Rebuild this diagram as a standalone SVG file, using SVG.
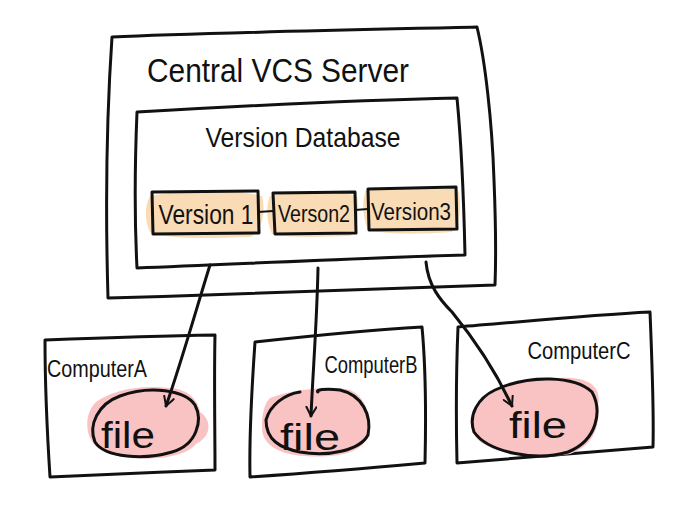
<svg xmlns="http://www.w3.org/2000/svg" width="700" height="517" viewBox="0 0 700 517">
<defs>
<style>
.ln{fill:none;stroke:#111;stroke-width:3;stroke-linecap:round;stroke-linejoin:round}
.thin{fill:none;stroke:#111;stroke-width:2;stroke-linecap:round;stroke-linejoin:round}
.t{font-family:"Liberation Sans","DejaVu Sans",sans-serif;fill:#111;text-anchor:middle}
.ver{fill:#f9dcb5;stroke:none}
.blob{fill:#f9c3c3;stroke:none}
</style>
<marker id="ah" viewBox="0 0 12 12" refX="10" refY="6" markerWidth="12" markerHeight="12" markerUnits="userSpaceOnUse" orient="auto">
<path d="M1,1 L10,6 L1,11" fill="none" stroke="#111" stroke-width="2" stroke-linecap="round" stroke-linejoin="round"/>
</marker>
</defs>
<rect width="700" height="517" fill="#fff"/>

<g id="server">
<path class="ln" d="M112,37 C200,33 350,30 477,27 C485,60 492,120 494,180 C496,230 496,260 495,285 C400,288 250,294 108,298 C106,230 105,140 112,37 Z"/>
<text class="t" x="278" y="82" font-size="34" textLength="262" lengthAdjust="spacingAndGlyphs">Central VCS Server</text>
</g>

<g id="db">
<path class="ln" d="M137,112 C240,106 360,100 457,98 C462,150 464,210 465,255 C360,258 240,264 137,268 C134,210 135,160 137,112 Z"/>
<text class="t" x="303" y="147" font-size="28" textLength="195" lengthAdjust="spacingAndGlyphs">Version Database</text>
</g>

<g id="v1">
<path class="ver" d="M150,196 C190,188 240,190 262,196 C266,212 262,232 250,237 C210,238 170,240 150,232 C144,220 145,205 150,196 Z"/>
<path class="ln" d="M152,192 L258,191 L259,233 L153,234 Z"/>
<text class="t" x="206" y="224" font-size="27" textLength="95" lengthAdjust="spacingAndGlyphs">Version 1</text>
</g>

<g id="v2">
<path class="ver" d="M270,196 C300,190 340,191 357,196 C360,212 358,232 350,236 C320,237 290,238 272,234 C266,220 266,205 270,196 Z"/>
<path class="ln" d="M273,193 L355,192 L356,233 L275,234 Z"/>
<text class="t" x="314" y="222" font-size="23" textLength="72" lengthAdjust="spacingAndGlyphs">Verson2</text>
</g>

<g id="v3">
<path class="ver" d="M366,190 C400,186 440,186 458,190 C462,205 460,225 452,232 C420,234 390,235 368,230 C362,215 362,200 366,190 Z"/>
<path class="ln" d="M368,189 L456,187 L457,229 L369,230 Z"/>
<text class="t" x="411" y="220" font-size="23" textLength="80" lengthAdjust="spacingAndGlyphs">Version3</text>
</g>

<g id="computerA">
<path class="ln" d="M45,340 C100,338 160,336 215,335 C214,380 215,430 215,470 C160,472 100,475 50,477 C47,430 45,385 45,340 Z"/>
<text class="t" x="97" y="377" font-size="23" textLength="100" lengthAdjust="spacingAndGlyphs">ComputerA</text>
<path class="blob" d="M96,402 C110,392 135,384 170,388 C188,389 198,400 200,412 C212,420 212,436 196,444 C186,456 160,460 135,458 C110,456 92,450 88,432 C86,420 88,410 96,402 Z"/>
<path class="ln" d="M120,396 C150,385 185,390 195,405 C203,420 197,445 172,452 C145,460 105,458 95,442 C88,425 98,404 120,396 Z"/>
<text class="t" x="128" y="448" font-size="36" textLength="54" lengthAdjust="spacingAndGlyphs">file</text>
</g>

<g id="computerB">
<path class="ln" d="M255,342 C310,336 370,330 422,327 C426,370 426,420 425,463 C370,468 310,473 250,477 C249,430 252,385 255,342 Z"/>
<text class="t" x="371" y="373" font-size="23" textLength="93" lengthAdjust="spacingAndGlyphs">ComputerB</text>
<path class="blob" d="M270,398 C290,390 330,385 350,390 C368,398 372,420 366,440 C358,455 330,458 305,456 C282,455 262,446 262,428 C262,414 264,404 270,398 Z"/>
<path class="ln" d="M300,392 C285,394 270,405 266,420 C266,440 280,448 300,452 C330,457 360,450 368,435 C372,415 362,395 340,390 C325,388 315,390 318,392"/>
<text class="t" x="310" y="450" font-size="36" textLength="60" lengthAdjust="spacingAndGlyphs">file</text>
</g>

<g id="computerC">
<path class="ln" d="M458,327 C520,322 590,315 650,312 C652,360 654,410 653,447 C590,452 520,458 457,463 C456,420 456,375 458,327 Z"/>
<text class="t" x="579" y="359" font-size="23" textLength="103" lengthAdjust="spacingAndGlyphs">ComputerC</text>
<path class="blob" d="M475,408 C490,386 530,378 560,378 C590,376 602,388 598,405 C600,425 595,445 570,454 C540,460 495,455 478,440 C470,430 468,418 475,408 Z"/>
<path class="ln" d="M495,390 C530,374 575,376 592,392 C602,410 598,440 568,452 C535,462 488,452 474,432 C468,415 478,398 495,390 Z"/>
<text class="t" x="538" y="438" font-size="36" textLength="58" lengthAdjust="spacingAndGlyphs">file</text>
</g>

<g id="connectors">
<path class="thin" d="M258,212 L273,211"/>
<path class="thin" d="M355,210 L368,209"/>
<path class="ln" d="M210,265 C196,310 182,360 166,406" marker-end="url(#ah)"/>
<path class="ln" d="M318,268 C317,320 313,370 311,416" marker-end="url(#ah)"/>
<path class="ln" d="M426,262 C428,285 440,300 452,312 C475,340 495,370 512,406" marker-end="url(#ah)"/>
</g>
</svg>
